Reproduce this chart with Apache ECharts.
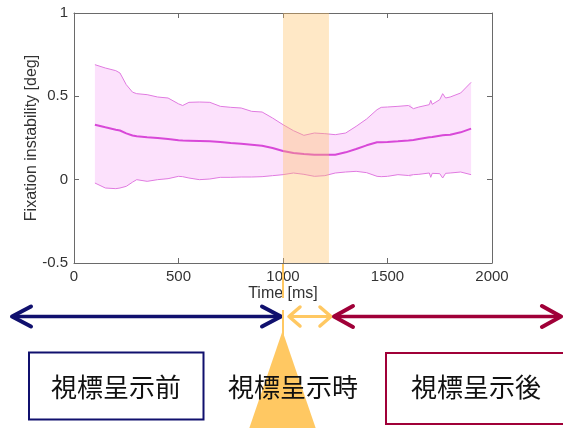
<!DOCTYPE html>
<html>
<head>
<meta charset="utf-8">
<script src="https://cdn.jsdelivr.net/npm/echarts@6/dist/echarts.min.js"></script>
<style>
html,body{margin:0;padding:0;background:#fff;}
#c{width:563px;height:428px;}
</style>
</head>
<body>
<div id="c"></div>
<script>
// ---- data ----
const times = [100,150,200,220,250,280,300,350,400,450,500,520,550,600,650,700,750,800,850,900,950,1000,1050,1100,1150,1200,1250,1300,1350,1400,1450,1470,1500,1550,1600,1608,1624,1650,1700,1707,1714,1750,1764,1778,1800,1850,1900];
const upper = [0.69,0.67,0.654,0.64,0.57,0.525,0.516,0.51,0.496,0.49,0.455,0.445,0.464,0.466,0.464,0.44,0.434,0.43,0.41,0.406,0.37,0.33,0.294,0.266,0.28,0.276,0.27,0.28,0.32,0.364,0.42,0.434,0.436,0.44,0.445,0.455,0.426,0.436,0.45,0.476,0.452,0.48,0.516,0.49,0.496,0.52,0.584];
const meanVals = [0.33,0.314,0.30,0.295,0.278,0.265,0.26,0.254,0.25,0.244,0.236,0.235,0.234,0.232,0.23,0.226,0.22,0.216,0.21,0.204,0.19,0.172,0.16,0.154,0.15,0.15,0.15,0.164,0.184,0.206,0.224,0.225,0.226,0.23,0.235,0.236,0.238,0.244,0.254,0.255,0.256,0.264,0.266,0.268,0.27,0.284,0.306];
const lower = [-0.02,-0.05,-0.054,-0.05,-0.04,-0.015,0.0,-0.01,0.0,0.006,0.02,0.018,0.01,0.0,0.004,0.014,0.014,0.016,0.016,0.018,0.024,0.03,0.04,0.032,0.02,0.024,0.04,0.046,0.05,0.042,0.02,0.018,0.02,0.03,0.025,0.014,0.03,0.032,0.04,0.014,0.038,0.036,0.01,0.038,0.04,0.046,0.03];
const bandRange = [1000, 1220];
const xTicks = {min:0, max:2000, interval:500};
const yTicks = {min:-0.5, max:1, interval:0.5};
const labels = {x:'Time [ms]', y:'Fixation instability [deg]', before:'視標呈示前', during:'視標呈示時', after:'視標呈示後'};

const pair = (a) => times.map((t,i)=>[t,a[i]]);

const chart = echarts.init(document.getElementById('c'), null, {renderer:'canvas'});
const axisCol = '#6a6a6a';
const tickFont = {fontFamily:'Liberation Sans', fontSize:15, color:'#333', formatter:(v)=>String(v)};
const baseX = {type:'value', min:xTicks.min, max:xTicks.max, interval:xTicks.interval,
  axisLine:{show:true, onZero:false, lineStyle:{color:axisCol, width:1}},
  axisTick:{show:true, inside:true, length:5, lineStyle:{color:axisCol}},
  splitLine:{show:false}};
const baseY = {type:'value', min:yTicks.min, max:yTicks.max, interval:yTicks.interval,
  axisLine:{show:true, onZero:false, lineStyle:{color:axisCol, width:1}},
  axisTick:{show:true, inside:true, length:5, lineStyle:{color:axisCol}},
  splitLine:{show:false}};

const CJK = '"Noto Sans CJK JP", "Noto Sans CJK SC", sans-serif';

chart.setOption({
  animation:false,
  grid:{left:74, right:71, top:13, bottom:165, outerBoundsMode:'none', containLabel:false},
  xAxis:[
    Object.assign({}, baseX, {position:'bottom', name:labels.x, nameLocation:'middle', nameGap:23, nameMoveOverlap:false,
      nameTextStyle:{fontFamily:'Liberation Sans', fontSize:16, color:'#333'},
      axisLabel:Object.assign({margin:6}, tickFont)}),
    Object.assign({}, baseX, {position:'top', axisLabel:{show:false}})
  ],
  yAxis:[
    Object.assign({}, baseY, {position:'left', name:labels.y, nameLocation:'middle', nameGap:34, nameMoveOverlap:false,
      nameTextStyle:{fontFamily:'Liberation Sans', fontSize:16, color:'#333'},
      axisLabel:Object.assign({margin:6}, tickFont)}),
    Object.assign({}, baseY, {position:'right', axisLabel:{show:false}})
  ],
  series:[
    {type:'custom', z:1, silent:true, data:[[times[0], upper[0]]],
      renderItem:function(params, api){
        const pts = [];
        for (let i=0;i<times.length;i++) pts.push(api.coord([times[i], upper[i]]));
        for (let i=times.length-1;i>=0;i--) pts.push(api.coord([times[i], lower[i]]));
        return {type:'polygon', shape:{points:pts}, style:{fill:'rgba(240,120,240,0.22)'}};
      }},
    {type:'line', z:2, data:pair(upper), showSymbol:false, lineStyle:{color:'#E07AE0', width:1}},
    {type:'line', z:2, data:pair(lower), showSymbol:false, lineStyle:{color:'#E07AE0', width:1}},
    {type:'line', z:2, data:pair(meanVals), showSymbol:false, lineStyle:{color:'#D848D8', width:2}},
    {type:'custom', z:3, silent:true, data:[bandRange],
      renderItem:function(params, api){
        const a = api.coord([api.value(0), yTicks.max]);
        const b = api.coord([api.value(1), yTicks.min]);
        return {type:'rect', shape:{x:a[0], y:a[1], width:b[0]-a[0], height:b[1]-a[1]},
          style:{fill:'rgba(255,192,96,0.36)'}};
      }}
  ]
});

// ---- annotation graphics below the chart ----
const navy = '#10106e', crimson = '#a00038', orange = '#ffc862';
const x1000 = chart.convertToPixel({xAxisIndex:0}, bandRange[0]);
const x1220 = chart.convertToPixel({xAxisIndex:0}, bandRange[1]);
const yAr = 316.5;
function arrow(x0, x1, back, half, color, w, hw){
  return [
    {type:'line', shape:{x1:x0+1, y1:yAr, x2:x1-1, y2:yAr}, style:{stroke:color, lineWidth:w}},
    {type:'polyline', shape:{points:[[x0+back,yAr-half],[x0,yAr],[x0+back,yAr+half]]},
      style:{stroke:color, lineWidth:hw, fill:null, lineJoin:'round', lineCap:'round'}},
    {type:'polyline', shape:{points:[[x1-back,yAr-half],[x1,yAr],[x1-back,yAr+half]]},
      style:{stroke:color, lineWidth:hw, fill:null, lineJoin:'round', lineCap:'round'}}
  ];
}
const els = [];
els.push({type:'polygon', z:1, shape:{points:[[x1000-0.5,331],[x1000-34,429],[x1000+33,429]]}, style:{fill:orange}});
els.push({type:'rect', z:2, shape:{x:x1000-1, y:264, width:2, height:34}, style:{fill:orange}});
els.push({type:'rect', z:2, shape:{x:x1000-1, y:310, width:2, height:25}, style:{fill:orange}});
arrow(12, x1000-2, 19, 10, navy, 3.5, 4).forEach(e=>els.push(e));
arrow(x1000+6, x1220+2, 11, 9.5, orange, 3, 3.5).forEach(e=>els.push(e));
arrow(x1220+5, 561, 19, 10.5, crimson, 3.5, 4).forEach(e=>els.push(e));
els.push({type:'rect', shape:{x:29, y:352.5, width:174.5, height:67}, style:{stroke:navy, lineWidth:2, fill:null}});
els.push({type:'rect', shape:{x:386, y:353, width:200, height:71}, style:{stroke:crimson, lineWidth:2, fill:null}});
const tstyle = (t,x)=>({type:'text', z:5, x:x, y:387, style:{text:t, font:'26px '+CJK, fill:'#111', align:'center', verticalAlign:'middle'}});
els.push(tstyle(labels.before, 116));
els.push(tstyle(labels.during, 293));
els.push(tstyle(labels.after, 476));

chart.setOption({graphic:{elements:els}});
</script>
</body>
</html>
